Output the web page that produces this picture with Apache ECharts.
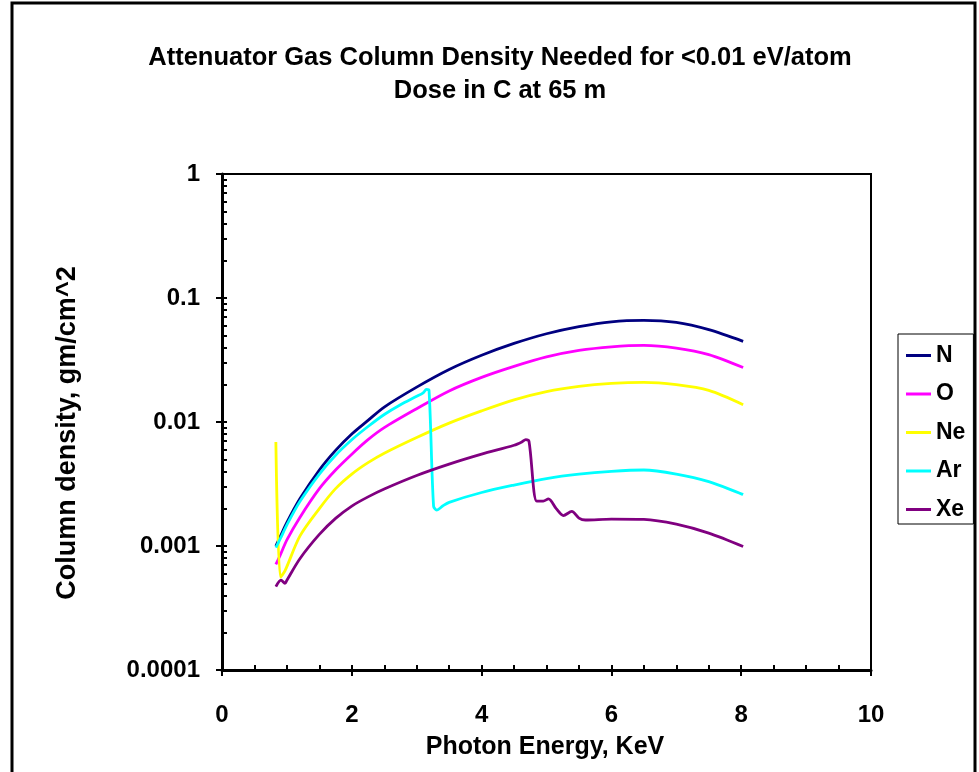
<!DOCTYPE html>
<html>
<head>
<meta charset="utf-8">
<script src="https://cdn.jsdelivr.net/npm/echarts@6/dist/echarts.min.js"></script>
<style>
html,body{margin:0;padding:0;background:#fff;}
#c{width:979px;height:772px;}
</style>
</head>
<body>
<div id="c"></div>
<script>
// ---- data ----
var titleLines = ['Attenuator Gas Column Density Needed for <0.01 eV/atom', 'Dose in C at 65 m'];
var xName = 'Photon Energy, KeV';
var yName = 'Column density, gm/cm^2';
var seriesNames = ['N', 'O', 'Ne', 'Ar', 'Xe'];

var nE = [0.83, 0.9, 1.0, 1.2, 1.5, 1.75, 2.0, 2.25, 2.5, 3.0, 3.5, 4.0, 4.5, 5.0, 5.5, 6.0, 6.5, 7.0, 7.5, 8.03];
var nV = [0.00100, 0.00120, 0.00155, 0.00240, 0.0041, 0.0059, 0.0080, 0.0103, 0.0132, 0.0191, 0.0265, 0.0345, 0.0430, 0.0515, 0.0588, 0.0643, 0.0660, 0.0635, 0.0555, 0.0447];

var oE = [0.83, 0.9, 1.0, 1.2, 1.5, 1.75, 2.0, 2.25, 2.5, 3.0, 3.5, 4.0, 4.5, 5.0, 5.5, 6.0, 6.5, 7.0, 7.5, 8.03];
var oV = [0.00071, 0.00085, 0.00112, 0.00170, 0.0029, 0.0041, 0.0055, 0.0072, 0.0090, 0.0128, 0.0178, 0.0229, 0.0281, 0.0335, 0.0378, 0.0404, 0.0415, 0.0395, 0.0350, 0.0275];

var neE = [0.83, 0.90, 0.97, 1.2, 1.5, 1.75, 2.0, 2.25, 2.5, 3.0, 3.5, 4.0, 4.5, 5.0, 5.5, 6.0, 6.5, 7.0, 7.5, 8.03];
var neV = [0.0069, 0.00056, 0.00063, 0.00120, 0.0020, 0.0029, 0.0038, 0.0047, 0.0056, 0.0075, 0.0098, 0.0123, 0.0151, 0.0176, 0.0194, 0.0205, 0.0209, 0.0200, 0.0180, 0.0138];

var arE = [0.83, 0.9, 1.0, 1.2, 1.5, 1.75, 2.0, 2.25, 2.5, 2.75, 3.0, 3.1, 3.15, 3.19, 3.26, 3.31, 3.4, 3.5, 4.0, 4.5, 5.0, 5.5, 6.0, 6.5, 7.0, 7.5, 8.03];
var arV = [0.00097, 0.00115, 0.00148, 0.00228, 0.0038, 0.0054, 0.0072, 0.0092, 0.0115, 0.0138, 0.0161, 0.0172, 0.0183, 0.0180, 0.0021, 0.00195, 0.0021, 0.00225, 0.0027, 0.0031, 0.0035, 0.0038, 0.0040, 0.0041, 0.0038, 0.0033, 0.0026];

var xeE = [0.83, 0.91, 0.97, 1.0, 1.2, 1.5, 1.75, 2.0, 2.25, 2.5, 3.0, 3.5, 4.0, 4.5, 4.62, 4.68, 4.73, 4.85, 4.95, 5.03, 5.15, 5.26, 5.39, 5.5, 5.6, 6.0, 6.5, 7.0, 7.5, 8.03];
var xeV = [0.00047, 0.00053, 0.00050, 0.00053, 0.00079, 0.00124, 0.00167, 0.0021, 0.00249, 0.00288, 0.0037, 0.00457, 0.0055, 0.00649, 0.0069, 0.0072, 0.0070, 0.0023, 0.0023, 0.0024, 0.0020, 0.00176, 0.0019, 0.00168, 0.00162, 0.00165, 0.00164, 0.00150, 0.00127, 0.00099];

var xTicks = [0, 2, 4, 6, 8, 10];
var yTicks = [0.0001, 0.001, 0.01, 0.1, 1];
var colors = ['#000080', '#FF00FF', '#FFFF00', '#00FFFF', '#800080'];

// ---- build ----
function pairs(xs, ys) { return xs.map(function (x, i) { return [x, ys[i]]; }); }
var allE = [nE, oE, neE, arE, xeE];
var allV = [nV, oV, neV, arV, xeV];

var minorY = [];
for (var d = 0; d < yTicks.length - 1; d++) {
  for (var k = 1; k <= 9; k++) minorY.push(yTicks[d] * k);
}
minorY.push(yTicks[yTicks.length - 1]);

var FONT = '"Liberation Sans", Arial, sans-serif';
var chart = echarts.init(document.getElementById('c'), null, { renderer: 'canvas' });

var series = seriesNames.map(function (name, i) {
  return {
    name: name,
    type: 'line',
    xAxisIndex: 0,
    yAxisIndex: 0,
    data: pairs(allE[i], allV[i]),
    showSymbol: false,
    symbol: 'none',
    smooth: 0.3,
    lineStyle: { color: colors[i], width: 2.8 },
    itemStyle: { color: colors[i] },
    animation: false
  };
});

chart.setOption({
  animation: false,
  backgroundColor: '#fff',
  grid: {
    left: 222, right: 108, top: 174, bottom: 102,
    show: true, borderColor: '#000', borderWidth: 2, backgroundColor: 'transparent'
  },
  graphic: [
    { type: 'rect', shape: { x: 12, y: 3, width: 963, height: 800 }, style: { fill: 'none', stroke: '#000', lineWidth: 3 }, z: 100 },
    { type: 'text', x: 500, y: 58, style: { text: titleLines[0], font: 'bold 25.5px ' + FONT, fill: '#000', textAlign: 'center', textVerticalAlign: 'middle' } },
    { type: 'text', x: 500, y: 91, style: { text: titleLines[1], font: 'bold 25.5px ' + FONT, fill: '#000', textAlign: 'center', textVerticalAlign: 'middle' } },
    { type: 'text', x: 545, y: 747, style: { text: xName, font: 'bold 25px ' + FONT, fill: '#000', textAlign: 'center', textVerticalAlign: 'middle' } },
    { type: 'text', x: 68, y: 433, rotation: Math.PI / 2, style: { text: yName, font: 'bold 27px ' + FONT, fill: '#000', textAlign: 'center', textVerticalAlign: 'middle' } }
  ],
  legend: {
    orient: 'vertical',
    left: 898, top: 334,
    data: seriesNames,
    icon: 'rect',
    itemWidth: 25, itemHeight: 3,
    itemGap: 15.5,
    padding: [10, 8, 3, 8],
    borderColor: '#000', borderWidth: 1,
    textStyle: { fontFamily: FONT, fontWeight: 'bold', fontSize: 23, color: '#000' }
  },
  xAxis: [
    {
      type: 'value', min: 0, max: 10, interval: 2,
      axisLine: { show: true, onZero: false, lineStyle: { color: '#000', width: 3 } },
      axisTick: { show: true, inside: false, length: 6, lineStyle: { color: '#000', width: 2 } },
      axisLabel: { show: true, margin: 33, fontFamily: FONT, fontWeight: 'bold', fontSize: 24, color: '#000',
        customValues: xTicks },
      splitLine: { show: false }
    },
    {
      type: 'value', min: 0, max: 10, interval: 0.5, position: 'bottom',
      axisLine: { show: false },
      axisTick: { show: true, inside: true, length: 5, lineStyle: { color: '#000', width: 2 } },
      axisLabel: { show: false },
      splitLine: { show: false }
    }
  ],
  yAxis: [
    {
      type: 'log', logBase: 10, min: 0.0001, max: 1,
      axisLine: { show: true, onZero: false, lineStyle: { color: '#000', width: 3 } },
      axisTick: { show: true, inside: false, length: 6, lineStyle: { color: '#000', width: 2 } },
      axisLabel: { show: true, margin: 22, fontFamily: FONT, fontWeight: 'bold', fontSize: 24, color: '#000',
        formatter: function (v) { return String(Number(v.toPrecision(6))); } },
      splitLine: { show: false }
    },
    {
      type: 'log', logBase: 10, min: 0.0001, max: 1, position: 'left',
      axisLine: { show: false },
      axisTick: { show: true, inside: true, length: 5, customValues: minorY, lineStyle: { color: '#000', width: 2 } },
      axisLabel: { show: false },
      splitLine: { show: false }
    }
  ],
  series: series
});
</script>
</body>
</html>
